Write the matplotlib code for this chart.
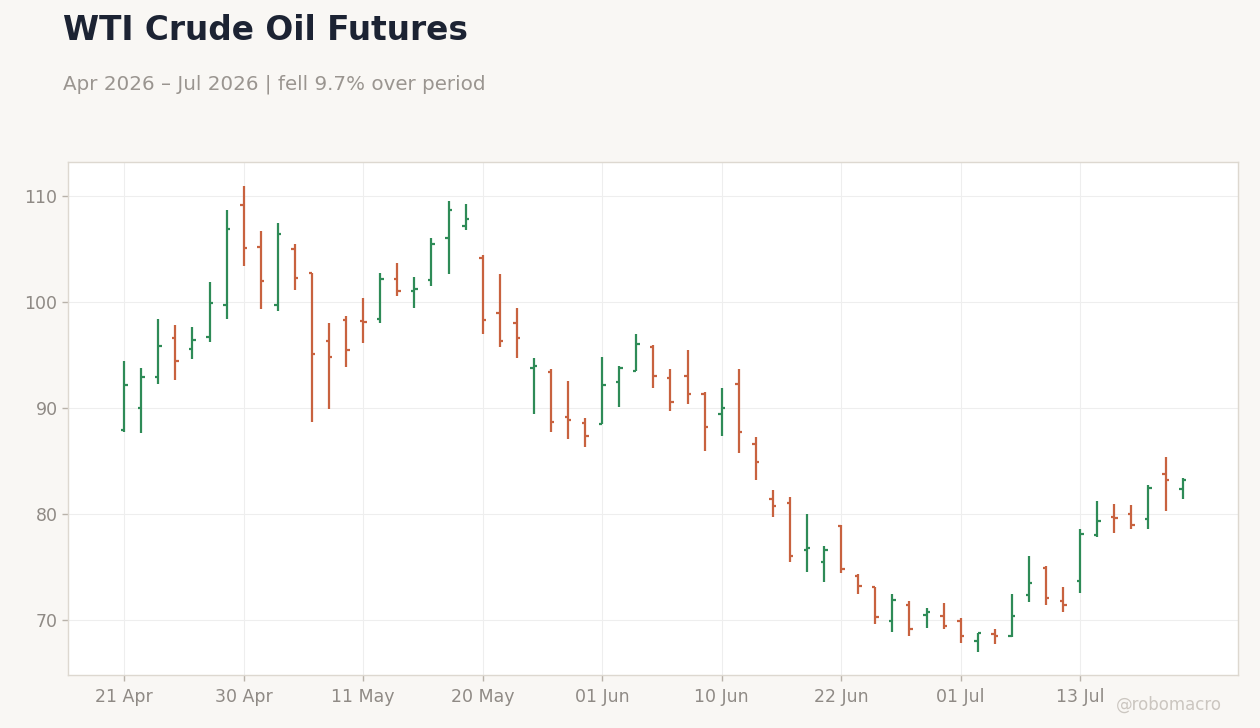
import pandas as pd
import matplotlib
matplotlib.use('Agg')
import matplotlib.pyplot as plt

# trading days, NYSE holidays removed
dates = pd.bdate_range('2026-04-21', '2026-07-21', freq='C',
                       holidays=['2026-05-25', '2026-06-19', '2026-07-03'])

opens = [88.0, 90.06, 92.99, 96.67, 95.63, 96.76, 99.78, 109.21, 105.25, 99.78,
         105.06, 102.8, 96.38, 98.36, 98.27, 98.43, 102.23, 101.1, 102.14, 106.1,
         107.23, 104.21, 99.03, 98.08, 93.85, 93.46, 89.18, 88.65, 88.52, 92.52,
         93.55, 95.82, 92.86, 93.05, 91.38, 89.47, 92.3, 86.64, 81.45, 81.07,
         76.64, 75.5, 78.9, 74.18, 73.14, 69.94, 71.46, 70.53, 70.44, 69.97,
         68.05, 68.74, 68.52, 72.42, 74.97, 71.86, 73.74, 78.08, 79.78, 80.06,
         79.59, 83.84, 82.42]
highs = [94.47, 93.8, 98.43, 97.86, 97.67, 101.92, 108.71, 111.0, 106.73, 107.48,
         105.5, 102.8, 98.05, 98.71, 100.41, 102.77, 103.71, 102.39, 106.07, 109.56,
         109.28, 104.43, 102.67, 99.47, 94.75, 93.71, 92.58, 89.09, 94.84, 93.96,
         97.01, 95.94, 93.68, 95.47, 91.51, 91.89, 93.68, 87.26, 82.33, 81.6,
         80.0, 76.98, 78.96, 74.4, 73.14, 72.45, 71.79, 71.13, 71.64, 70.19,
         68.77, 69.18, 72.48, 76.07, 75.13, 73.14, 78.62, 81.26, 80.97, 80.88,
         82.77, 85.41, 83.4]
lows = [87.8, 87.7, 92.33, 92.7, 94.69, 96.29, 98.46, 103.43, 99.4, 99.21,
        101.19, 88.74, 89.91, 93.93, 96.2, 98.08, 100.6, 99.5, 101.57, 102.7,
        106.86, 97.04, 95.82, 94.78, 89.5, 87.8, 87.14, 86.38, 88.49, 90.16,
        93.52, 91.92, 89.75, 90.41, 85.97, 87.39, 85.79, 83.24, 79.75, 75.5,
        74.56, 73.62, 74.47, 72.48, 69.65, 68.9, 68.53, 69.31, 69.21, 67.89,
        67.04, 67.8, 68.46, 71.76, 71.48, 70.82, 72.61, 77.89, 78.27, 78.65,
        78.65, 80.35, 81.48]
closes = [92.2, 92.99, 95.91, 94.47, 96.45, 99.97, 106.95, 105.13, 102.04, 106.48,
          102.33, 95.16, 94.87, 95.53, 98.18, 102.23, 101.1, 101.29, 105.53, 108.74,
          107.89, 98.36, 96.38, 96.67, 93.95, 88.74, 88.93, 87.42, 92.23, 93.84,
          96.1, 93.05, 90.6, 91.35, 88.21, 90.03, 87.77, 84.94, 80.79, 76.07,
          76.82, 76.64, 74.84, 73.24, 70.31, 71.92, 69.2, 70.82, 69.5, 68.55,
          68.77, 68.55, 70.44, 73.55, 72.14, 71.48, 78.18, 79.4, 79.65, 79.03,
          82.52, 83.27, 83.25]

up_col = '#2e8b57'
down_col = '#c8623f'
bg = '#f9f7f4'
txt = '#8f8a85'

fig = plt.figure(figsize=(12.6, 7.28), dpi=100, facecolor=bg)
ax = fig.add_axes([0.054, 0.0728, 0.9286, 0.7047])
ax.set_facecolor('white')

x = list(range(len(dates)))
cols = [up_col if c >= o else down_col for o, c in zip(opens, closes)]
tw = 0.2
ax.vlines(x, lows, highs, colors=cols, lw=1.6, zorder=3)
ax.hlines(opens, [i - tw for i in x], x, colors=cols, lw=1.6, zorder=3)
ax.hlines(closes, x, [i + tw for i in x], colors=cols, lw=1.6, zorder=3)

ax.set_xlim(-3.29, 65.25)
ax.set_ylim(64.84, 113.24)
ax.set_yticks([70, 80, 90, 100, 110])
tick_pos = x[::7]
ax.set_xticks(tick_pos)
ax.set_xticklabels([dates[i].strftime('%d %b') for i in tick_pos])

ax.grid(True, color='#eeeeee', lw=0.8, zorder=0)
for s in ax.spines.values():
    s.set_color('#ddd8d0')
    s.set_linewidth(1)
ax.tick_params(colors='#b8b2aa', labelcolor=txt, labelsize=12.5, length=4, width=1)
ax.tick_params(axis='x', pad=5)

fig.text(0.05, 0.945, 'WTI Crude Oil Futures', fontsize=23.6, fontweight='bold',
         color='#1c2333', va='baseline')
fig.text(0.05, 0.877, 'Apr 2026 – Jul 2026 | fell 9.7% over period', fontsize=14.3,
         color='#9a9590', va='baseline')
fig.text(0.97, 0.025, '@robomacro', fontsize=12, color='#cbc6c0', ha='right', va='baseline')

fig.savefig('out.png', dpi=100, facecolor=bg)
plt.close()
